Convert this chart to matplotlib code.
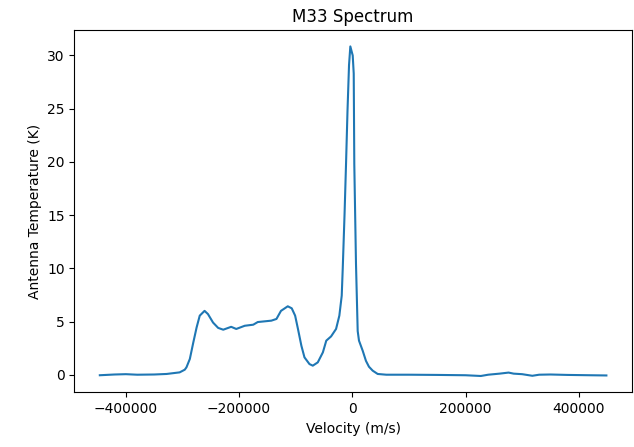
import matplotlib
matplotlib.use('Agg')
import matplotlib.pyplot as plt

# velocity (m/s) and antenna temperature (K)
velocity = [-446000, -420000, -400000, -380000, -350000, -328000,
            -305000, -296000, -293000, -287000, -281000, -275000, -269500,
            -261000, -255000, -246000, -237000, -228000, -214000, -205000,
            -190000, -175000, -167000, -143000, -134000, -126000, -114000,
            -107000, -101000, -96000, -90000, -84500, -75700, -69800, -61000,
            -52000, -46000, -37500, -28700, -22900, -18700, -16900, -13700,
            -11100, -8500, -5800, -3500,
            700, 2500, 3500, 6500, 9500, 11800, 18300, 24100, 29400, 36000,
            44800, 60000, 100000, 150000, 200000, 227000, 240000, 260000,
            276000, 285000, 300000, 318000, 330000, 350000, 380000, 420000,
            448800]
temperature = [-0.05, 0.02, 0.05, 0.0, 0.02, 0.07,
               0.22, 0.47, 0.69, 1.48, 3.0, 4.45, 5.55,
               6.0, 5.7, 4.9, 4.4, 4.23, 4.5, 4.3,
               4.6, 4.7, 4.95, 5.08, 5.24, 6.0, 6.43,
               6.24, 5.55, 4.3, 2.73, 1.63, 1.0, 0.85, 1.16,
               2.1, 3.2, 3.6, 4.3, 5.55, 7.43, 10.0, 15.1,
               19.8, 24.8, 29.1, 30.85,
               30.0, 28.3, 19.8, 10.4, 4.1, 3.2, 2.26, 1.3, 0.75, 0.38,
               0.07, 0.0, 0.0, -0.02, -0.05, -0.12, 0.0, 0.1,
               0.2, 0.1, 0.05, -0.1, 0.0, 0.02, -0.02, -0.05,
               -0.07]

fig = plt.figure(figsize=(6.34, 4.47), dpi=100)
fig.subplots_adjust(left=0.1175, right=0.9964, top=0.933, bottom=0.122)
ax = fig.add_subplot(111)
ax.plot(velocity, temperature)
ax.set_title('M33 Spectrum')
ax.set_xlabel('Velocity (m/s)')
ax.set_ylabel('Antenna Temperature (K)')
ax.ticklabel_format(style='plain', axis='x')

plt.savefig('out.png', dpi=100)
